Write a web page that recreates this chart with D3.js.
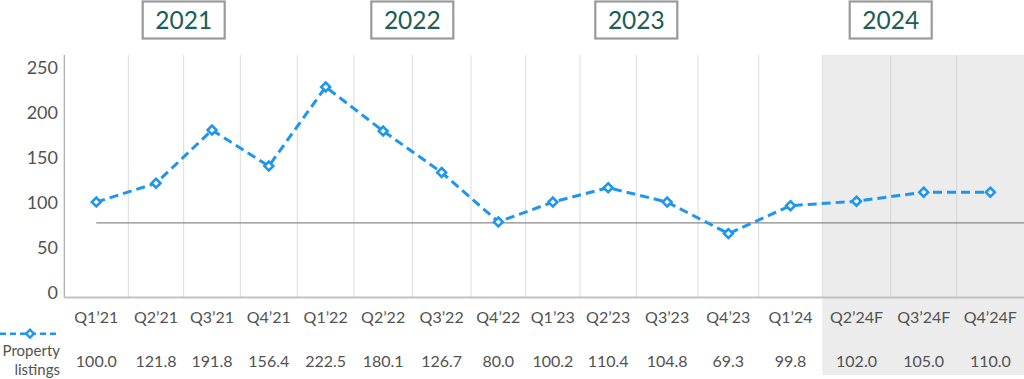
<!DOCTYPE html>
<html><head><meta charset="utf-8">
<script src="https://cdn.jsdelivr.net/npm/d3@7"></script>
<style>body{margin:0;background:#fff;}svg{display:block;font-family:Lato,"Open Sans",sans-serif;}</style>
</head><body><svg id="c" width="1024" height="379"></svg>
<script>
const categories = ["Q1\u201921","Q2\u201921","Q3\u201921","Q4\u201921","Q1\u201922","Q2\u201922","Q3\u201922","Q4\u201922","Q1\u201923","Q2\u201923","Q3\u201923","Q4\u201923","Q1\u201924","Q2\u201924F","Q3\u201924F","Q4\u201924F"];
const plotted = [101,122,181,141,229,180,134,79,101,117,101,66,97,102,112,112];
const tableLabels = ["100.0","121.8","191.8","156.4","222.5","180.1","126.7","80.0","100.2","110.4","104.8","69.3","99.8","102.0","105.0","110.0"];
const years = ["2021","2022","2023","2024"];
const yTicks = [0,50,100,150,200,250];
const refValue = 78;
const forecastStart = 13;
const seriesName = ["Property","listings"];

(function(){
// layout: column boundaries (irregular table columns)
const colEdges = [64.3,128.3,183.7,240.3,297.3,354,412.3,471,525.7,580,636.3,698,758.7,822.3,890.7,956.7,1024];
const svg = d3.select("#c");
const x = d3.scaleLinear().domain(d3.range(colEdges.length)).range(colEdges);
const y = d3.scaleLinear().domain([0,250]).range([293,68]);
const plotTop = 55, base = 297.5;
const blue = "#1e96f0";
const txt = "#525252";

svg.append("rect").attr("x", x(forecastStart)).attr("y", plotTop)
  .attr("width", x(categories.length)-x(forecastStart)).attr("height", 375-plotTop).attr("fill","#ececec");

svg.append("g").selectAll("line").data(d3.range(1,categories.length)).join("line")
  .attr("x1", d=>x(d)).attr("x2", d=>x(d)).attr("y1", plotTop).attr("y2", base)
  .attr("stroke", d=> d>forecastStart ? "#d4d4d4":"#dcdcdc").attr("stroke-width",1);

svg.append("line").attr("x1",x(0)).attr("x2",x(0)).attr("y1",plotTop).attr("y2",base)
  .attr("stroke","#aaa").attr("stroke-width",1.2);
svg.append("line").attr("x1",x(0)).attr("x2",x(categories.length)).attr("y1",base).attr("y2",base)
  .attr("stroke","#c2c2c2").attr("stroke-width",2);

svg.append("g").selectAll("text").data(yTicks).join("text")
  .attr("x",58).attr("y",d=>y(d)).attr("dy","0.35em").attr("text-anchor","end")
  .attr("font-size",18).attr("fill",txt).text(d=>d);

svg.append("line").attr("x1",x(0.5)).attr("x2",x(categories.length)).attr("y1",y(refValue)).attr("y2",y(refValue))
  .attr("stroke","#8a8a8a").attr("stroke-width",1.3);

const line = d3.line().x((d,i)=>x(i+0.5)).y(d=>y(d));
svg.append("path").datum(plotted).attr("d",line).attr("fill","none")
  .attr("stroke",blue).attr("stroke-width",3).attr("stroke-dasharray","9,5");

const diamond = d3.symbol().type(d3.symbolDiamond2).size(50);
svg.append("g").selectAll("path").data(plotted).join("path")
  .attr("d",diamond).attr("transform",(d,i)=>`translate(${x(i+0.5)},${y(d)})`)
  .attr("fill","#fff").attr("stroke",blue).attr("stroke-width",2.6);

svg.append("g").selectAll("text").data(categories).join("text")
  .attr("x",(d,i)=>x(i+0.5)).attr("y",317).attr("dy","0.35em").attr("text-anchor","middle")
  .attr("font-size",16).attr("fill",txt).text(d=>d);

svg.append("g").selectAll("text").data(tableLabels).join("text")
  .attr("x",(d,i)=>x(i+0.5)).attr("y",361).attr("dy","0.35em").attr("text-anchor","middle")
  .attr("font-size",16).attr("fill",txt).text(d=>d);

svg.append("line").attr("x1",0).attr("x2",60).attr("y1",333.7).attr("y2",333.7)
  .attr("stroke",blue).attr("stroke-width",2.5).attr("stroke-dasharray","6,4");
svg.append("path").attr("d",d3.symbol().type(d3.symbolDiamond2).size(40)).attr("transform","translate(30,333.7)")
  .attr("fill","#fff").attr("stroke",blue).attr("stroke-width",2.4);
svg.append("g").selectAll("text").data(seriesName).join("text")
  .attr("x",60).attr("y",(d,i)=>351+i*18.5).attr("dy","0.35em").attr("text-anchor","end")
  .attr("font-size",15).attr("fill",txt).text(d=>d);

const yb = svg.append("g").selectAll("g").data(years).join("g")
  .attr("transform",(d,i)=>`translate(${x(4*i+2)},0)`);
yb.append("rect").attr("x",-41).attr("y",1.5).attr("width",82).attr("height",37)
  .attr("fill","#fff").attr("stroke","#9a9a9a").attr("stroke-width",2.2);
yb.append("text").attr("x",0).attr("y",20).attr("dy","0.36em").attr("text-anchor","middle")
  .attr("font-size",24.5).attr("fill","#1b5e58").text(d=>d);
})();
</script></body></html>
